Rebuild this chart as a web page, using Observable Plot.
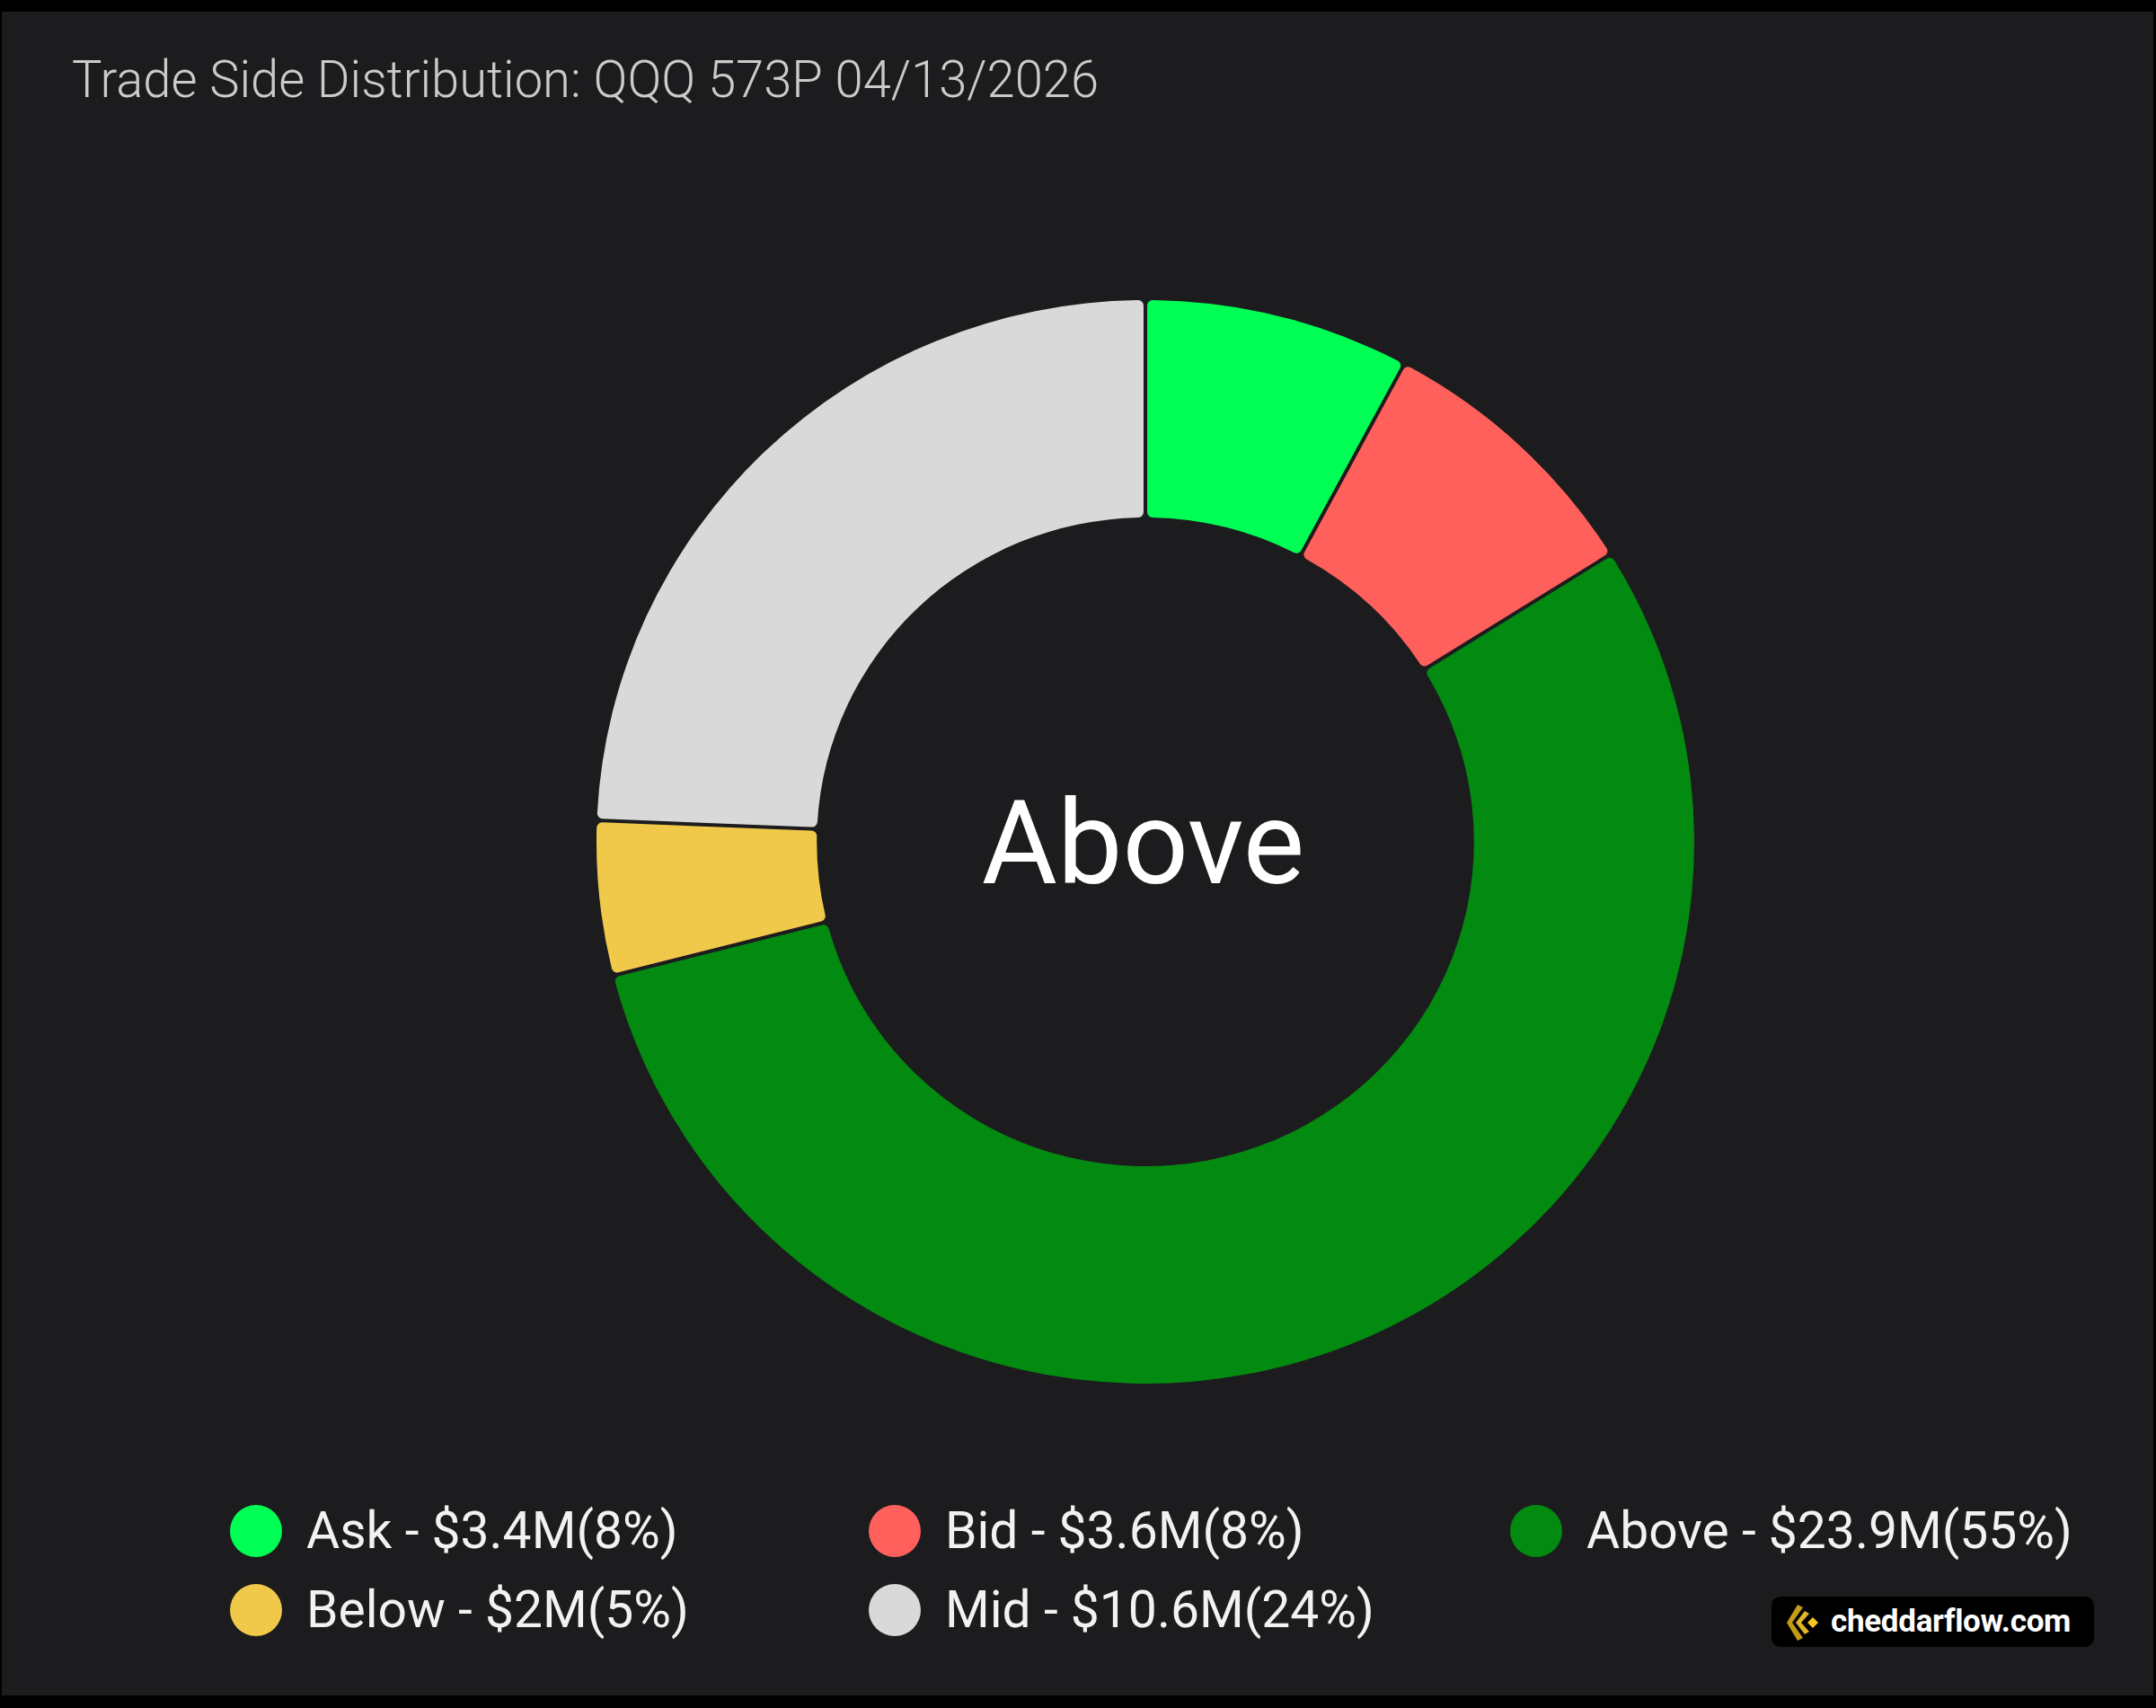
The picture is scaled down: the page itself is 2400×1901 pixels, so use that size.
<!DOCTYPE html>
<html><head><meta charset="utf-8">
<script src="https://cdn.jsdelivr.net/npm/d3@7"></script>
<script src="https://cdn.jsdelivr.net/npm/@observablehq/plot@0.6"></script>
<style>
html,body{margin:0;padding:0;background:#000;width:2400px;height:1901px;overflow:hidden;}
#card{position:absolute;left:2px;top:13px;width:2395px;height:1874px;background:#1c1c1e;font-family:Roboto,"Noto Sans",sans-serif;}
#title{position:absolute;left:78px;top:47px;font-size:57px;line-height:57px;font-weight:300;color:#cbcbcb;white-space:nowrap;transform-origin:0 50%;}
#chart{position:absolute;left:623px;top:274px;}
.item{position:absolute;height:58px;display:flex;align-items:center;white-space:nowrap;}
.dot{width:58px;height:58px;border-radius:50%;flex:none;}
.lab{margin-left:27px;font-size:57px;line-height:58px;color:#f2f2f2;transform-origin:0 50%;}
#wm{position:absolute;left:1970px;top:1764px;width:359px;height:56px;background:#000;border-radius:10px;}
#wm svg{position:absolute;left:17px;top:9px;}
#wm span{position:absolute;left:66px;top:0;line-height:56px;font-size:35px;font-weight:700;color:#fff;font-family:Roboto,sans-serif;letter-spacing:-0.3px;}
</style></head>
<body>
<div id="card">
  <div id="title"></div>
  <div id="chart"></div>
  <div id="legend"></div>
  <div id="wm"><svg width="40" height="40" viewBox="0 0 40 40">
    <polygon points="12,0 18,3 6,20 18,37 12,40 0,20" fill="#c49a16"/>
    <polygon points="20,7 25,10 16,20 25,30 20,33 10,20" fill="#e2b52a"/>
    <polygon points="29,14 35,20 29,26 23,20" fill="#f7c623"/>
  </svg><span>cheddarflow.com</span></div>
</div>
<script>
const titleText = "Trade Side Distribution: QQQ 573P 04/13/2026";
const sides = ["Ask", "Bid", "Above", "Below", "Mid"];
const values = [3.4, 3.6, 23.9, 2.0, 10.6];          // $M
const colors = ["#00ff55", "#ff605c", "#038a10", "#f0c94b", "#d9d9d9"];

const total = d3.sum(values);
const data = sides.map((s, i) => ({side: s, value: values[i], pct: Math.round(values[i] / total * 100)}));
const topSide = data[d3.maxIndex(values)].side;

const titleEl = document.getElementById("title");
titleEl.textContent = titleText;
{
  const w = titleEl.getBoundingClientRect().width;
  if (w > 0) titleEl.style.transform = `scaleX(${1143 / w})`;
}

const W = 1300, H = 1300, RY = 603, RX = 611, RIN = 361;
const limX = (W / 2) / RX, limY = (H / 2) / RY;
const arcs = d3.pie().sort(null).value(d => d.value).startAngle(0).endAngle(2 * Math.PI)(data);
const colorOf = d3.scaleOrdinal(sides, colors);

function donut(index, scales) {
  const cx = scales.x(0), cy = scales.y(0);
  const rx = Math.abs(scales.x(1) - cx), ry = Math.abs(scales.y(1) - cy);
  const ri = Math.abs(scales.y(RIN / RY) - cy);
  const arc = d3.arc().innerRadius(ri).outerRadius(ry).cornerRadius(6).padAngle(4 / ry).padRadius(ry);
  const g = d3.create("svg:g").attr("transform", `translate(${cx},${cy}) scale(${rx / ry},1)`);
  g.selectAll("path").data(arcs).join("path")
    .attr("d", arc)
    .attr("fill", d => (scales.color ? scales.color(d.data.side) : colorOf(d.data.side)));
  return g.node();
}

const chart = Plot.plot({
  width: W, height: H, margin: 0,
  style: {background: "transparent", fontFamily: "Roboto, sans-serif"},
  x: {domain: [-limX, limX], axis: null},
  y: {domain: [-limY, limY], axis: null},
  color: {domain: sides, range: colors},
  marks: [
    donut,
    Plot.text([topSide], {x: () => 0, y: () => 0, text: d => d, fontSize: 129, fill: "#ffffff", textAnchor: "middle", lineAnchor: "middle", dy: 4, dx: -3})
  ]
});
document.getElementById("chart").appendChild(chart);

// legend (HTML, below the donut)
const colX = [283, 994, 1708], rowY = [1691, 1779];
const leg = document.getElementById("legend");
data.forEach((d, i) => {
  const col = i % 3, row = Math.floor(i / 3);
  const it = document.createElement("div");
  it.className = "item";
  it.style.left = (colX[col] - 29) + "px";
  it.style.top = (rowY[row] - 29) + "px";
  const dot = document.createElement("div");
  dot.className = "dot"; dot.style.background = colorOf(d.side);
  const lab = document.createElement("span");
  lab.className = "lab";
  lab.textContent = `${d.side} - $${d3.format("~g")(d.value)}M(${d.pct}%)`;
  it.appendChild(dot); it.appendChild(lab);
  leg.appendChild(it);
});
</script>
</body></html>
